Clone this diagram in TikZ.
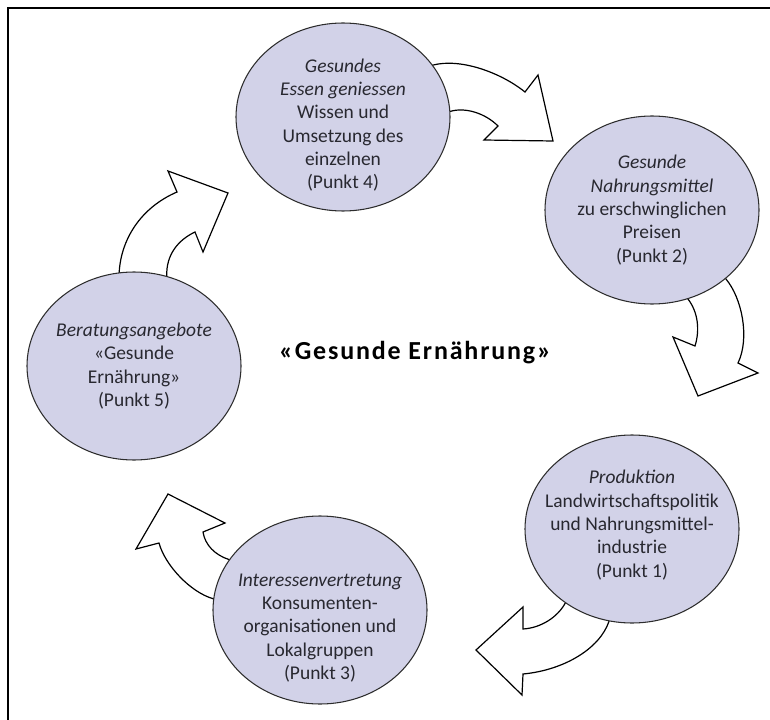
\documentclass[tikz,border=0pt]{standalone}
\usepackage{fontspec}
\setmainfont{Carlito}
\usepackage{xcolor}
\usepackage{tikz}
\usetikzlibrary{shapes.geometric,backgrounds}
\definecolor{LilaKreis}{RGB}{210,210,232}
\definecolor{GrauRand}{RGB}{45,45,45}
\definecolor{GrauText}{RGB}{40,40,48}

\begin{document}
\begin{tikzpicture}[x=0.75pt,y=-0.75pt,
  kreis/.style={ellipse,draw=GrauRand,line width=0.8pt,fill=LilaKreis,minimum width=160.5pt,minimum height=141pt},
  inhalt/.style={align=center,text=GrauText,font=\fontsize{14.6}{17.5}\selectfont},
  pfeil/.style={draw=black,line width=0.9pt,fill=white,line join=miter}]
  \useasboundingbox (0,0) rectangle (770,720);
  \draw[line width=1.2pt] (8,720) -- (8,8) -- (770,8);
  \node[kreis] (P4) at (343,117) {};
  \node[kreis] (P2) at (652,210) {};
  \node[kreis] (P1) at (632,529) {};
  \node[kreis] (P3) at (320,610) {};
  \node[kreis] (P5) at (134,366) {};
  \node[inhalt] (T4) at ([yshift=-6pt]P4.center) {\textit{Gesundes}\\\textit{Essen geniessen}\\Wissen und\\Umsetzung des\\einzelnen\\(Punkt 4)};
  \node[inhalt] (T2) at (P2.center) {\textit{Gesunde}\\\textit{Nahrungsmittel}\\zu erschwinglichen\\Preisen\\(Punkt 2)};
  \node[inhalt] (T1) at ([yshift=3pt]P1.center) {\textit{Produktion}\\Landwirtschaftspolitik\\und Nahrungsmittel-\\industrie\\(Punkt 1)};
  \node[inhalt] (T3) at ([yshift=-13.5pt]P3.center) {\textit{Interessenvertretung}\\Konsumenten-\\organisationen und\\Lokalgruppen\\(Punkt 3)};
  \node[inhalt] (T5) at (P5.center) {\textit{Beratungsangebote}\\«Gesunde\\Ernährung»\\(Punkt 5)};
  \node[font=\bfseries\fontsize{19.5}{23}\selectfont\addfontfeatures{LetterSpace=7}] (titel) at (415,353) {«Gesunde Ernährung»};
  \begin{scope}[on background layer]
    \draw[pfeil] (P4.30) .. controls (460,58) and (500,72) .. (525,92) -- (538,75) -- (553,141) -- (484,140) -- (498,126)
      .. controls (485,113) and (465,107) .. (P4.3) -- (P4.center) -- cycle;
    \draw[pfeil] (P2.-43) .. controls (742,298) and (750,338) .. (738,363) -- (758,373) -- (698,396) -- (673,337) -- (695,346)
      .. controls (700,330) and (698,312) .. (P2.-68) -- (P2.center) -- cycle;
    \draw[pfeil] (P1.256) .. controls (600,648) and (565,670) .. (523,674) -- (522,695) -- (476,650) -- (523,607) -- (523,629)
      .. controls (540,628) and (557,618) .. (P1.228) -- (P1.center) -- cycle;
    \draw[pfeil] (P3.174) .. controls (190,592) and (165,565) .. (159,543) -- (136,549) -- (168,494) -- (225,523) -- (203,532)
      .. controls (205,545) and (215,555) .. (P3.151) -- (P3.center) -- cycle;
    \draw[pfeil] (P5.99) .. controls (121,240) and (140,208) .. (177,192) -- (168,171) -- (228,193) -- (203,252) -- (195,232)
      .. controls (178,240) and (166,255) .. (P5.70) -- (P5.center) -- cycle;
  \end{scope}
\end{tikzpicture}
\end{document}
